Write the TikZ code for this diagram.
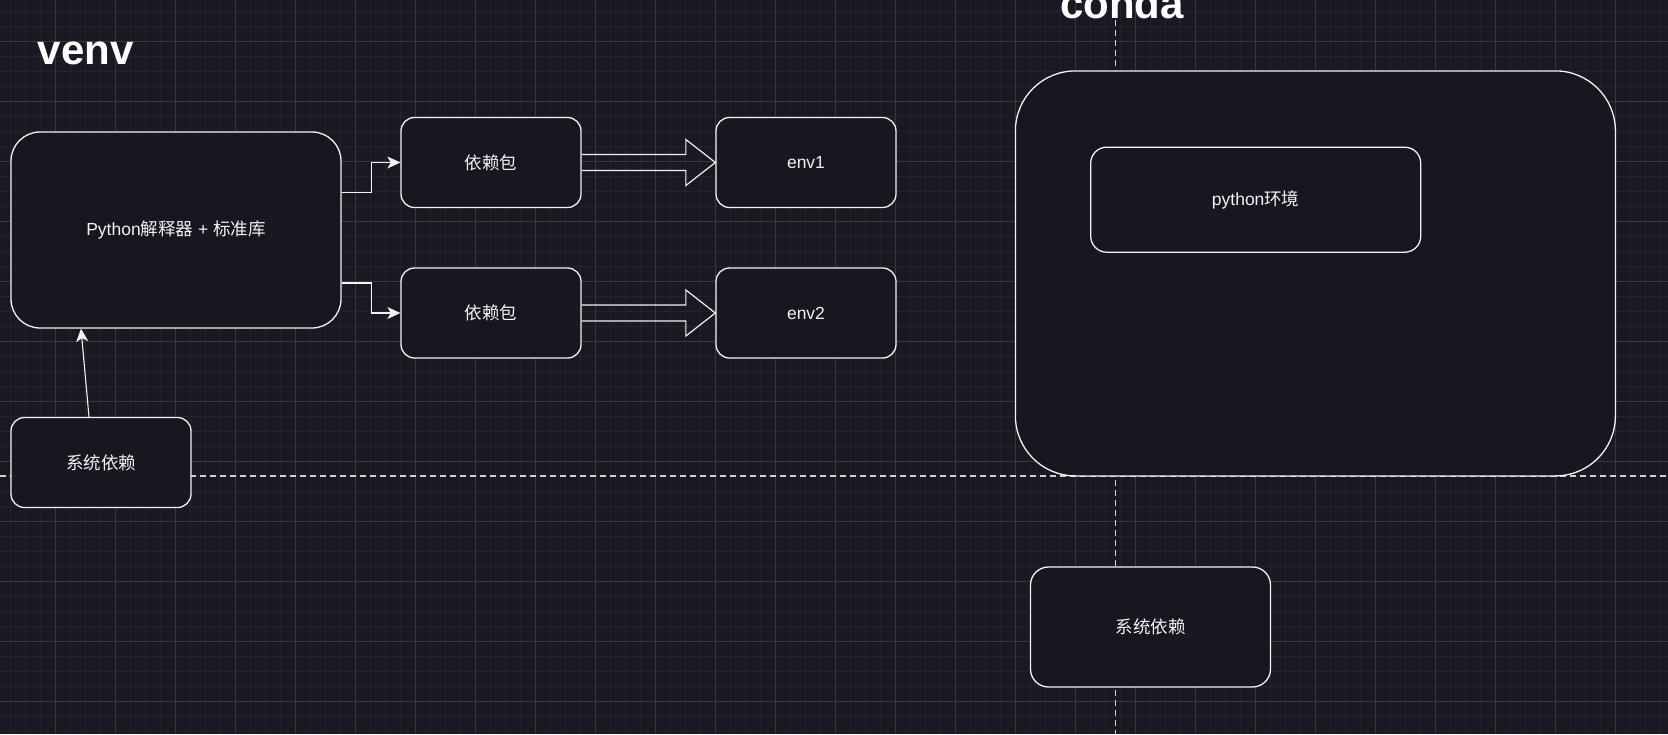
\documentclass[tikz,border=0pt]{standalone}
\usepackage{fontspec}
\setmainfont{Liberation Sans}
\newfontfamily\cjk{Noto Sans CJK SC}
\usetikzlibrary{calc,arrows.meta}
\definecolor{bgc}{HTML}{1A1820}
\definecolor{boxfill}{HTML}{18161F}
\definecolor{minorc}{HTML}{24222A}
\definecolor{majorc}{HTML}{39383E}
\definecolor{linec}{HTML}{F2F2F2}
\definecolor{dashc}{HTML}{D0D0D0}
\tikzset{
  minorline/.style={draw=minorc, line width=1pt},
  majorline/.style={draw=majorc, line width=1pt},
  guide/.style={draw=dashc, line width=1.2pt, dash pattern=on 6pt off 4pt},
  card/.style={draw=linec, fill=boxfill, line width=1.3pt, text=linec,
    font=\fontsize{17.5}{21}\selectfont, inner sep=0pt},
  conn/.style={draw=linec, line width=1.1pt, -{Stealth[length=13pt,width=12pt,inset=3.5pt]}},
  blockarrow/.style={draw=linec, line width=1.2pt, line join=miter},
  title/.style={text=white, font=\fontsize{42}{50}\selectfont\bfseries, inner sep=0pt, anchor=base west}
}
\begin{document}
\begin{tikzpicture}[x=1pt,y=-1pt]
\useasboundingbox (0,0) rectangle (1668,734);
\fill[bgc] (0,0) rectangle (1668,734);
% grid
\foreach \gx in {10,25,...,1660} \draw[minorline] (\gx,0) -- (\gx,734);
\foreach \gy in {11,26,...,731} \draw[minorline] (0,\gy) -- (1668,\gy);
\foreach \gx in {55,115,...,1615} \draw[majorline] (\gx,0) -- (\gx,734);
\foreach \gy in {41,101,...,701} \draw[majorline] (0,\gy) -- (1668,\gy);
% guide lines
\coordinate (hL) at (0,476);
\coordinate (hR) at (1668,476);
\coordinate (vT) at (1115.5,0);
\coordinate (vB) at (1115.5,734);
\draw[guide] (hL) -- (hR);
\draw[guide] (vT) -- (vB);
% titles
\node[title] (venv) at (37.5,64) {venv};
\node[title] (conda) at (1060,18.3) {conda};
% venv side
\node[card, minimum width=330pt, minimum height=196pt, rounded corners=29pt] (py) at (176,230)
  {Python{\cjk 解释器} + {\cjk 标准库}};
\node[card, minimum width=180pt, minimum height=90pt, rounded corners=13.5pt] (dep1) at (491,162.5) {\cjk 依赖包};
\node[card, minimum width=180pt, minimum height=90pt, rounded corners=13.5pt] (dep2) at (491,313) {\cjk 依赖包};
\node[card, minimum width=180pt, minimum height=90pt, rounded corners=13.5pt] (env1) at (806,162.5) {env1};
\node[card, minimum width=180pt, minimum height=90pt, rounded corners=13.5pt] (env2) at (806,313) {env2};
\node[card, minimum width=180pt, minimum height=90pt, rounded corners=13.5pt] (sysL) at (101,462.5) {\cjk 系统依赖};
% connectors
\draw[conn] ([yshift=37.5pt]py.east) -- ++(30,0) |- (dep1.west);
\draw[conn] ([yshift=-53pt]py.east) -- ++(30,0) |- (dep2.west);
\draw[conn] ([xshift=-12pt]sysL.north) -- ([xshift=-95pt]py.south);
% block arrows
\draw[blockarrow] ($(dep1.east)+(0,-8)$) -- ($(env1.west)+(-29.5,-8)$) -- ($(env1.west)+(-29.5,-23)$)
  -- (env1.west) -- ($(env1.west)+(-29.5,23)$) -- ($(env1.west)+(-29.5,8)$) -- ($(dep1.east)+(0,8)$);
\draw[blockarrow] ($(dep2.east)+(0,-8)$) -- ($(env2.west)+(-29.5,-8)$) -- ($(env2.west)+(-29.5,-23)$)
  -- (env2.west) -- ($(env2.west)+(-29.5,23)$) -- ($(env2.west)+(-29.5,8)$) -- ($(dep2.east)+(0,8)$);
% conda side
\node[card, minimum width=600pt, minimum height=405pt, rounded corners=60pt] (cbox) at (1315.4,273.4) {};
\node[card, minimum width=330pt, minimum height=105pt, rounded corners=16pt] (pyenv) at (1255.7,199.7) {python{\cjk 环境}};
\node[card, minimum width=240pt, minimum height=120pt, rounded corners=18pt] (sysR) at (1150.5,627) {\cjk 系统依赖};
\end{tikzpicture}
\end{document}
